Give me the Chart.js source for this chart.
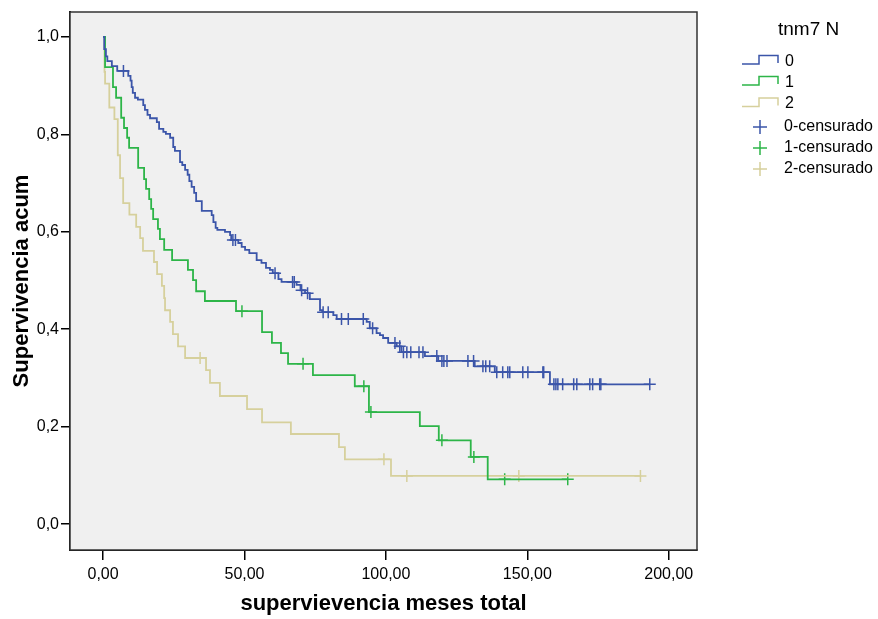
<!DOCTYPE html>
<html lang="es"><head>
<meta charset="UTF-8">
<title>Supervivencia por tnm7 N</title>
<script src="https://cdn.jsdelivr.net/npm/chart.js"></script>
<style>
  body { margin: 0; background: #fff; }
  #wrap { width: 878px; height: 619px; }
</style>
</head>
<body>
<div id="wrap"><canvas id="km" width="878" height="619"></canvas></div>
<script>
  // tick labels
  const xTicks = [0, 50, 100, 150, 200];
  const yTicks = [0, 0.2, 0.4, 0.6, 0.8, 1.0];

  // group 0: event times, survival after each event, censored times
  const time0 = [0, 0.4, 1.0, 1.5, 3.1, 5.0, 8.9, 9.7, 10.1, 10.5, 11.3, 12.3, 14.2, 14.8, 15.7, 16.6, 19.0, 19.8,
    21.3, 22.2, 23.7, 24.8, 25.4, 27.2, 28.0, 29.0, 29.9, 30.5, 31.3, 32.2, 32.9, 34.9, 38.4, 39.0, 39.8, 40.4,
    43.1, 44.9, 45.3, 47.8, 49.0, 50.2, 51.7, 54.3, 56.0, 57.6, 59.0, 60.0, 62.0, 63.1, 68.4, 69.8, 71.4, 73.1,
    76.7, 77.5, 81.4, 82.6, 93.2, 94.3, 96.7, 97.9, 99.0, 100.8, 103.8, 105.5, 113.8, 118.5, 131.4, 138.5, 158.0];
  const surv0 = [1.0, 0.975, 0.96, 0.95, 0.94, 0.93, 0.92, 0.91, 0.897, 0.885, 0.875, 0.871, 0.86, 0.85, 0.84, 0.833, 0.825, 0.811,
    0.805, 0.801, 0.793, 0.774, 0.766, 0.743, 0.737, 0.727, 0.717, 0.704, 0.692, 0.68, 0.663, 0.643, 0.634, 0.62, 0.608, 0.604,
    0.6, 0.593, 0.583, 0.577, 0.569, 0.563, 0.556, 0.542, 0.536, 0.526, 0.522, 0.515, 0.503, 0.497, 0.491, 0.48, 0.474, 0.462,
    0.439, 0.435, 0.429, 0.421, 0.415, 0.402, 0.392, 0.388, 0.382, 0.372, 0.365, 0.353, 0.345, 0.335, 0.324, 0.312, 0.287];
  const cens0 = [7.2, 45.9, 46.8, 60.8, 67.0, 67.6, 70.2, 72.3, 77.8, 79.6, 84.3, 86.7, 92.0, 95.3, 103.2, 104.9,
    106.2, 107.4, 108.8, 111.7, 113.1, 118.0, 119.8, 120.5, 121.6, 129.0, 131.0, 134.3, 135.3, 136.7,
    139.2, 141.3, 143.1, 143.8, 148.4, 150.2, 155.5, 155.8, 159.4, 160.1, 160.8, 162.5, 166.4, 167.5,
    172.1, 173.1, 175.6, 176.0, 193.3];

  // group 1
  const time1 = [0, 0.7, 3.5, 4.6, 6.4, 7.4, 8.5, 9.2, 12.4, 14.5, 15.2, 16.3, 17.0, 17.7, 19.4, 20.1, 21.6, 24.4,
    30.0, 31.8, 32.9, 36.0, 47.0, 56.2, 59.7, 62.9, 65.4, 74.2, 89.0, 94.0, 112.0, 118.7, 130.0, 136.0];
  const surv1 = [1.0, 0.938, 0.897, 0.875, 0.834, 0.813, 0.793, 0.772, 0.731, 0.708, 0.688, 0.667, 0.647, 0.626, 0.606, 0.585, 0.563, 0.542,
    0.522, 0.501, 0.478, 0.458, 0.437, 0.394, 0.372, 0.351, 0.329, 0.306, 0.283, 0.23, 0.201, 0.172, 0.138, 0.092];
  const cens1 = [49.1, 70.7, 92.2, 94.7, 119.8, 131.1, 142.0, 164.3];

  // group 2
  const time2 = [0, 0.5, 0.7, 2.2, 4.0, 5.2, 6.0, 7.1, 9.3, 11.7, 13.1, 14.1, 18.0, 19.1, 20.8, 21.6, 21.9, 23.7,
    24.7, 26.5, 29.0, 36.4, 37.8, 41.3, 50.9, 56.2, 66.4, 83.4, 85.5, 101.8];
  const surv2 = [1.0, 0.928, 0.904, 0.855, 0.831, 0.757, 0.71, 0.659, 0.635, 0.61, 0.587, 0.561, 0.538, 0.513, 0.489, 0.464, 0.439, 0.415,
    0.39, 0.365, 0.341, 0.316, 0.29, 0.263, 0.236, 0.209, 0.185, 0.158, 0.133, 0.099];
  const cens2 = [34.3, 99.3, 107.4, 147.0, 190.0];

  const groupNames = ['0', '1', '2'];
  const colors = ['#3b55a9', '#2db548', '#d6d09c'];

  function stepValue(times, surv, t) {
    let s = surv[0];
    for (let i = 0; i < times.length; i++) {
      if (times[i] <= t) s = surv[i];
    }
    return s;
  }

  function stepLine(times, surv, cens) {
    const pts = times.map((t, i) => ({ x: t, y: surv[i] }));
    const last = Math.max(times[times.length - 1], ...cens);
    pts.push({ x: last, y: surv[surv.length - 1] });
    return pts;
  }

  function censorPoints(times, surv, cens) {
    return cens.map(t => ({ x: t, y: stepValue(times, surv, t) }));
  }

  const groups = [[time0, surv0, cens0], [time1, surv1, cens1], [time2, surv2, cens2]];
  const datasets = [];
  groups.forEach((g, i) => {
    datasets.push({
      label: groupNames[i],
      data: stepLine(g[0], g[1], g[2]),
      borderColor: colors[i],
      borderWidth: 1.8,
      stepped: 'before',
      pointRadius: 0,
      fill: false
    });
  });
  groups.forEach((g, i) => {
    datasets.push({
      label: groupNames[i] + '-censurado',
      data: censorPoints(g[0], g[1], g[2]),
      showLine: false,
      pointStyle: 'cross',
      pointRadius: 6,
      borderColor: colors[i],
      backgroundColor: colors[i],
      pointBorderWidth: 1.5
    });
  });

  const frame = {
    id: 'frame',
    beforeDatasetsDraw(chart) {
      const a = chart.chartArea, ctx = chart.ctx;
      ctx.save();
      ctx.fillStyle = '#f0f0f0';
      ctx.fillRect(a.left, a.top, a.right - a.left, a.bottom - a.top);
      ctx.restore();
    },
    afterDraw(chart) {
      const a = chart.chartArea, ctx = chart.ctx;
      ctx.save();
      ctx.strokeStyle = '#333';
      ctx.lineWidth = 1.5;
      ctx.strokeRect(a.left, a.top, a.right - a.left, a.bottom - a.top);

      // legend
      ctx.fillStyle = '#000';
      ctx.textBaseline = 'middle';
      ctx.font = '19px "Liberation Sans", Arial, sans-serif';
      ctx.fillText('tnm7 N', 778, 30);
      ctx.font = '16px "Liberation Sans", Arial, sans-serif';
      const rows = [61.5, 82.5, 104, 127, 148, 169];
      for (let i = 0; i < 3; i++) {
        const y = rows[i];
        ctx.strokeStyle = colors[i];
        ctx.lineWidth = 1.5;
        ctx.beginPath();
        ctx.moveTo(742, y + 2.5);
        ctx.lineTo(759, y + 2.5);
        ctx.lineTo(759, y - 6);
        ctx.lineTo(778, y - 6);
        ctx.lineTo(778, y + 1.5);
        ctx.stroke();
        ctx.fillText(groupNames[i], 785, y);
      }
      for (let i = 0; i < 3; i++) {
        const y = rows[i + 3];
        ctx.strokeStyle = colors[i];
        ctx.lineWidth = 1.5;
        ctx.beginPath();
        ctx.moveTo(753, y); ctx.lineTo(767, y);
        ctx.moveTo(760, y - 7); ctx.lineTo(760, y + 7);
        ctx.stroke();
        ctx.fillText(groupNames[i] + '-censurado', 784, y);
      }
      ctx.restore();
    }
  };

  const tickFont = { family: '"Liberation Sans", Arial, sans-serif', size: 16 };
  const titleFont = { family: '"Liberation Sans", Arial, sans-serif', size: 22, weight: 'bold' };

  new Chart(document.getElementById('km').getContext('2d'), {
    type: 'line',
    data: { datasets: datasets },
    options: {
      responsive: false,
      animation: false,
      layout: { padding: { left: 0, right: 181, top: 12, bottom: 0 } },
      plugins: { legend: { display: false }, tooltip: { enabled: false } },
      scales: {
        x: {
          type: 'linear',
          min: -11.7,
          max: 210,
          afterFit(s) { s.height = 69; },
          afterBuildTicks(s) { s.ticks = xTicks.map(v => ({ value: v })); },
          grid: { drawOnChartArea: false, drawTicks: true, tickLength: 10, color: '#000', lineWidth: 1.5 },
          border: { display: true, color: '#000', width: 2 },
          ticks: {
            color: '#000', font: tickFont, padding: 5, maxRotation: 0,
            callback: v => v.toFixed(2).replace('.', ',')
          },
          title: { display: true, text: 'supervievencia meses total', color: '#000', font: titleFont, padding: { top: 0, bottom: 2 } }
        },
        y: {
          min: -0.053,
          max: 1.051,
          afterFit(s) { s.width = 70; },
          afterBuildTicks(s) { s.ticks = yTicks.map(v => ({ value: v })); },
          grid: { drawOnChartArea: false, drawTicks: true, tickLength: 9, color: '#000', lineWidth: 1.5 },
          border: { display: true, color: '#000', width: 2 },
          ticks: {
            color: '#000', font: tickFont, padding: 2,
            callback: v => v.toFixed(1).replace('.', ',')
          },
          title: { display: true, text: 'Supervivencia acum', color: '#000', font: titleFont, padding: { top: 9, bottom: 0 } }
        }
      }
    },
    plugins: [frame]
  });
</script>
</body></html>
